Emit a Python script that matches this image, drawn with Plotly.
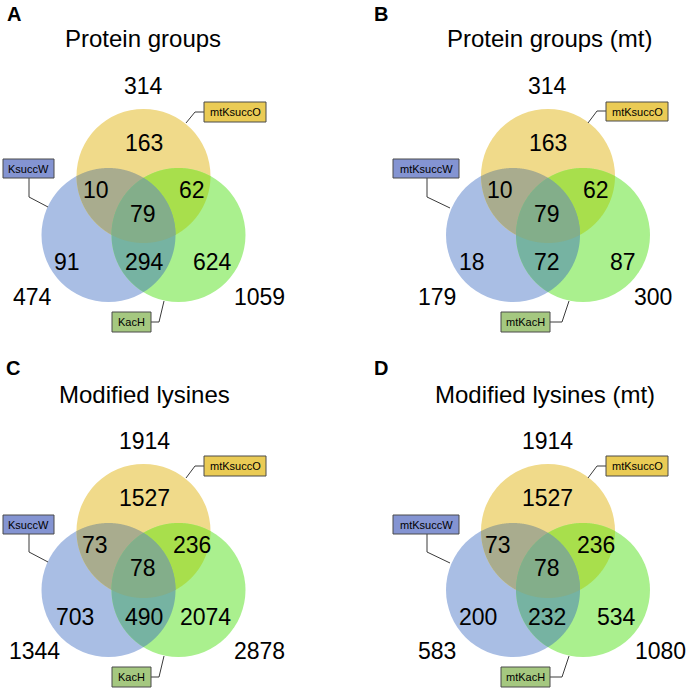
import numpy as np
import plotly.graph_objects as go

# ---------------- data ----------------
panel_letters = ["A", "B", "C", "D"]
panel_titles = ["Protein groups", "Protein groups (mt)", "Modified lysines", "Modified lysines (mt)"]
set_labels = [
    ["KsuccW", "mtKsuccO", "KacH"],
    ["mtKsuccW", "mtKsuccO", "mtKacH"],
    ["KsuccW", "mtKsuccO", "KacH"],
    ["mtKsuccW", "mtKsuccO", "mtKacH"],
]
# region counts: [O only, W&O, O&H, W&O&H, W only, W&H, H only]
region_counts = [
    [163, 10, 62, 79, 91, 294, 624],
    [163, 10, 62, 79, 18, 72, 87],
    [1527, 73, 236, 78, 703, 490, 2074],
    [1527, 73, 236, 78, 200, 232, 534],
]
# set totals: [O, W, H]
set_totals = [
    [314, 474, 1059],
    [314, 179, 300],
    [1914, 1344, 2878],
    [1914, 583, 1080],
]

# ---------------- layout constants ----------------
W, H = 688, 689
FONT = "Arial, Liberation Sans, sans-serif"
R = 67
# circle centres relative to panel (yellow O, blue W, green H)
panel_dx = [0, 404.5, 0, 404.5]
panel_dy = [0, 0, 355, 355]
cO = (143.5, 176)
cW = (108.5, 235)
cH = (178.5, 235)

col_O, col_W, col_H = "#F0DA8A", "#A9BEE4", "#AAF08E"
col_WO, col_OH, col_WH, col_WOH = "#A9AC8E", "#A8DF4C", "#76B3A2", "#83AE8A"

# text positions per panel (absolute px): region numbers and totals
region_pos = [
    [(144, 143), (96, 190), (192, 190), (143, 214), (67, 262), (144, 262), (212, 262)],
    [(548, 143), (500, 190), (596, 190), (547, 214), (472, 262), (547, 262), (623, 262)],
    [(144, 498), (95, 545), (192, 545), (143, 568), (75, 617), (144, 617), (205, 617)],
    [(547, 498), (498, 545), (596, 545), (547, 568), (478, 617), (547, 617), (616, 617)],
]
total_pos = [
    [(143, 86), (32, 297), (259, 297)],
    [(547, 86), (437, 297), (653, 297)],
    [(144, 441), (34, 651), (259, 651)],
    [(547, 441), (437, 651), (660, 651)],
]
title_pos = [(142.5, 38), (549, 38), (144.5, 394), (545, 394)]
letter_pos = [(14, 14), (381, 14), (13, 368), (381, 368)]

# label boxes: (x0, x1, y0, y1) and leader polylines; order W, O, H
box_fill = ["#8494D2", "#EACB55", "#A5C880"]
boxes = [
    [(3, 54, 159, 178), (204, 266, 102, 122), (112, 151, 312, 332)],
    [(393, 459, 159, 178), (606, 668, 102, 121), (501, 550, 312, 332)],
    [(3, 54, 515, 534), (204, 266, 456, 476), (112, 151, 667, 687)],
    [(393, 459, 515, 534), (606, 668, 456, 476), (501, 550, 667, 687)],
]
leaders = [
    [[(29, 178), (29, 197), (48, 207)], [(204, 112), (195, 112), (186, 123)], [(151, 322), (159, 322), (164, 301)]],
    [[(427, 178), (427, 197), (450, 208)], [(606, 111), (597, 111), (588, 123)], [(550, 322), (562, 322), (569, 301)]],
    [[(29, 534), (29, 552), (48, 562)], [(204, 466), (195, 466), (186, 478)], [(151, 677), (159, 677), (164, 656)]],
    [[(427, 534), (427, 552), (450, 563)], [(606, 466), (597, 466), (588, 478)], [(550, 677), (562, 677), (569, 656)]],
]


def region_path(circles):
    pts = []
    th = np.linspace(0, 2 * np.pi, 1440, endpoint=False)
    for i, (cx, cy, r) in enumerate(circles):
        px = cx + r * np.cos(th)
        py = cy + r * np.sin(th)
        ok = np.ones_like(px, dtype=bool)
        for j, (ox, oy, orr) in enumerate(circles):
            if j != i:
                ok &= (px - ox) ** 2 + (py - oy) ** 2 <= orr ** 2 + 1e-6
        pts += list(zip(px[ok], py[ok]))
    for i in range(len(circles)):
        for j in range(i + 1, len(circles)):
            x1, y1, r1 = circles[i]
            x2, y2, r2 = circles[j]
            d = np.hypot(x2 - x1, y2 - y1)
            a = (r1 ** 2 - r2 ** 2 + d ** 2) / (2 * d)
            h = np.sqrt(max(r1 ** 2 - a ** 2, 0))
            mx, my = x1 + a * (x2 - x1) / d, y1 + a * (y2 - y1) / d
            for s in (1, -1):
                ix = mx + s * h * (y2 - y1) / d
                iy = my - s * h * (x2 - x1) / d
                if all((ix - ox) ** 2 + (iy - oy) ** 2 <= orr ** 2 + 1e-3 for ox, oy, orr in circles):
                    pts.append((ix, iy))
    pts = np.array(pts)
    c = pts.mean(axis=0)
    ang = np.arctan2(pts[:, 1] - c[1], pts[:, 0] - c[0])
    pts = pts[np.argsort(ang)]
    return "M " + " L ".join(f"{x:.2f},{y:.2f}" for x, y in pts) + " Z"


shapes = []
annotations = []

for p in range(4):
    dx, dy = panel_dx[p], panel_dy[p]
    O = (cO[0] + dx, cO[1] + dy, R)
    Wc = (cW[0] + dx, cW[1] + dy, R)
    Hc = (cH[0] + dx, cH[1] + dy, R)
    for (cx, cy, r), col in [(Wc, col_W), (O, col_O), (Hc, col_H)]:
        shapes.append(dict(type="circle", xref="x", yref="y", x0=cx - r, x1=cx + r,
                           y0=cy - r, y1=cy + r, fillcolor=col, line=dict(width=0)))
    for circs, col in [((Wc, O), col_WO), ((O, Hc), col_OH), ((Wc, Hc), col_WH), ((Wc, O, Hc), col_WOH)]:
        shapes.append(dict(type="path", xref="x", yref="y", path=region_path(circs),
                           fillcolor=col, line=dict(width=0)))

    for val, (x, y) in zip(region_counts[p], region_pos[p]):
        annotations.append(dict(x=x, y=y, xref="x", yref="y", text=str(val), showarrow=False,
                                xanchor="center", yanchor="middle", borderpad=0,
                                font=dict(family=FONT, size=23, color="black")))
    for val, (x, y) in zip(set_totals[p], total_pos[p]):
        annotations.append(dict(x=x, y=y, xref="x", yref="y", text=str(val), showarrow=False,
                                xanchor="center", yanchor="middle", borderpad=0,
                                font=dict(family=FONT, size=23, color="black")))
    tx, ty = title_pos[p]
    annotations.append(dict(x=tx, y=ty, xref="x", yref="y", text=panel_titles[p], showarrow=False,
                            xanchor="center", yanchor="middle",
                            font=dict(family=FONT, size=24, color="black")))
    lx, ly = letter_pos[p]
    annotations.append(dict(x=lx, y=ly, xref="x", yref="y", text=f"<b>{panel_letters[p]}</b>",
                            showarrow=False, xanchor="center", yanchor="middle",
                            font=dict(family=FONT, size=20, color="black")))
    for k in range(3):
        path = "M " + " L ".join(f"{x},{y}" for x, y in leaders[p][k])
        shapes.append(dict(type="path", xref="x", yref="y", path=path,
                           line=dict(color="#3A3A3A", width=1)))
        x0, x1, y0, y1 = boxes[p][k]
        shapes.append(dict(type="rect", xref="x", yref="y", x0=x0, x1=x1, y0=y0, y1=y1,
                           fillcolor=box_fill[k], line=dict(color="#4A4A4A", width=1)))
        annotations.append(dict(x=(x0 + x1) / 2, y=(y0 + y1) / 2, xref="x", yref="y",
                                text=set_labels[p][k], showarrow=False,
                                xanchor="center", yanchor="middle", borderpad=0,
                                font=dict(family=FONT, size=11, color="black")))

fig = go.Figure()
fig.add_trace(go.Scatter(x=[0, W], y=[0, H], mode="markers", marker=dict(opacity=0),
                         hoverinfo="skip", showlegend=False))
fig.update_layout(
    width=W, height=H, margin=dict(l=0, r=0, t=0, b=0),
    paper_bgcolor="white", plot_bgcolor="white",
    xaxis=dict(range=[0, W], visible=False, fixedrange=True),
    yaxis=dict(range=[H, 0], visible=False, fixedrange=True),
    shapes=shapes, annotations=annotations, showlegend=False,
)
fig.write_html("out.html", config={"displayModeBar": False},
               post_script="document.body.style.margin='0px';document.body.style.overflow='hidden';")
